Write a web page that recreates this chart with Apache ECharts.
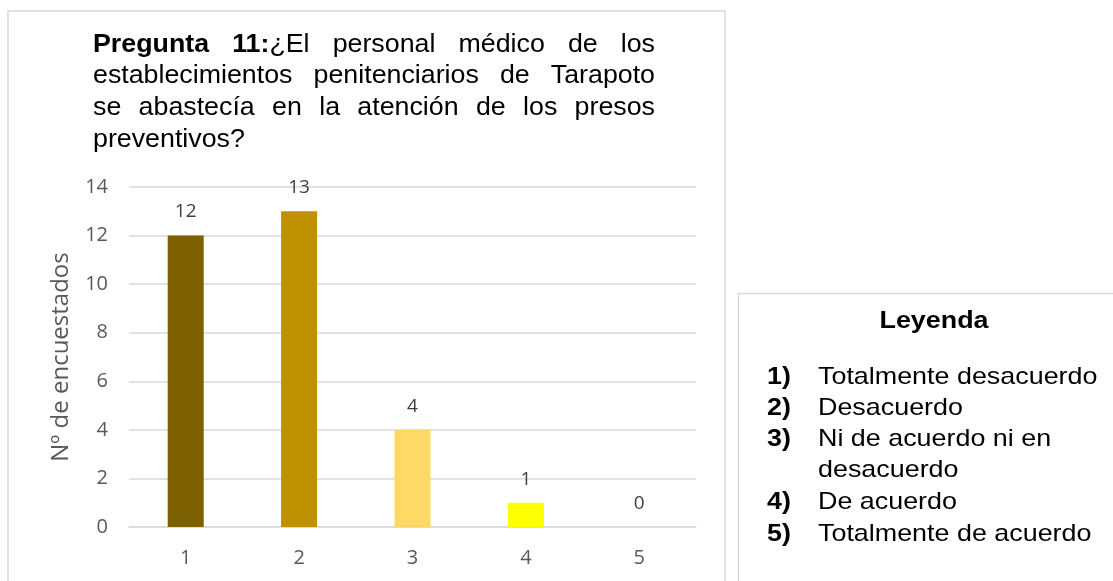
<!DOCTYPE html>
<html><head><meta charset="utf-8">
<script src="https://cdn.jsdelivr.net/npm/echarts@6/dist/echarts.min.js"></script>
<style>html,body{margin:0;padding:0;background:#fff}#c{width:1113px;height:581px}</style>
</head><body><div id="c"></div>
<script>
// ---- data ----
const categories = ['1', '2', '3', '4', '5'];
const values = [12, 13, 4, 1, 0];
const barColors = ['#7F6000', '#BF9000', '#FFD966', '#FFFF00', '#FFE699'];
const yAxisName = 'Nº de encuestados';
// title lines: each word is a list of [text, bold]
const titleLines = [
  [[['Pregunta', 1]], [['11:', 1], ['¿El', 0]], [['personal', 0]], [['médico', 0]], [['de', 0]], [['los', 0]]],
  [[['establecimientos', 0]], [['penitenciarios', 0]], [['de', 0]], [['Tarapoto', 0]]],
  [[['se', 0]], [['abastecía', 0]], [['en', 0]], [['la', 0]], [['atención', 0]], [['de', 0]], [['los', 0]], [['presos', 0]]],
  [[['preventivos?', 0]]]
];
const legendTitle = 'Leyenda';
const legendNums = ['1)', '2)', '3)', '', '4)', '5)'];
const legendItems = ['Totalmente desacuerdo', 'Desacuerdo', 'Ni de acuerdo ni en', 'desacuerdo', 'De acuerdo', 'Totalmente de acuerdo'];

// ---- layout helpers ----
const FONT = '"Liberation Sans", Arial, sans-serif';
const cv = document.createElement('canvas').getContext('2d');
function tw(text, bold, size) {
  cv.font = (bold ? 'bold ' : '') + size + 'px ' + FONT;
  return cv.measureText(text).width;
}
const graphics = [];
// chart border and legend box
graphics.push({ type: 'rect', shape: { x: 8, y: 11, width: 717, height: 600 }, style: { fill: 'none', stroke: '#d9d9d9', lineWidth: 1.5 }, z: 0 });
graphics.push({ type: 'rect', shape: { x: 738.5, y: 293.5, width: 420, height: 320 }, style: { fill: 'none', stroke: '#d9d9d9', lineWidth: 1.5 }, z: 0 });

// justified title
const T_SIZE = 26, T_SCALE = 1.03, T_LEFT = 93, T_RIGHT = 655;
const T_Y = [45, 76, 108, 140];
titleLines.forEach((line, li) => {
  const widths = line.map(w => w.reduce((s, seg) => s + tw(seg[0], seg[1], T_SIZE) * T_SCALE, 0));
  const total = widths.reduce((a, b) => a + b, 0);
  const last = li === titleLines.length - 1;
  const gap = (!last && line.length > 1) ? (T_RIGHT - T_LEFT - total) / (line.length - 1) : tw(' ', 0, T_SIZE) * T_SCALE;
  let x = T_LEFT;
  line.forEach((w, wi) => {
    let sx = x;
    w.forEach(seg => {
      graphics.push({ type: 'text', x: sx, y: T_Y[li], scaleX: T_SCALE,
        style: { text: seg[0], font: (seg[1] ? 'bold ' : '') + T_SIZE + 'px ' + FONT, fill: '#000', textAlign: 'left', textVerticalAlign: 'middle', align: 'left', verticalAlign: 'middle' } });
      sx += tw(seg[0], seg[1], T_SIZE) * T_SCALE;
    });
    x += widths[wi] + gap;
  });
});

// legend box texts
const L_SIZE = 24, L_SCALE = 1.12;
graphics.push({ type: 'text', x: 934, y: 321, scaleX: L_SCALE,
  style: { text: legendTitle, font: 'bold ' + L_SIZE + 'px ' + FONT, fill: '#000', textAlign: 'center', textVerticalAlign: 'middle', align: 'center', verticalAlign: 'middle' } });
const L_Y = [377, 408, 439, 470, 502, 534];
legendItems.forEach((t, i) => {
  if (legendNums[i]) {
    graphics.push({ type: 'text', x: 767, y: L_Y[i], scaleX: L_SCALE,
      style: { text: legendNums[i], font: 'bold ' + L_SIZE + 'px ' + FONT, fill: '#000', textAlign: 'left', textVerticalAlign: 'middle', align: 'left', verticalAlign: 'middle' } });
  }
  graphics.push({ type: 'text', x: 818, y: L_Y[i], scaleX: L_SCALE,
    style: { text: t, font: L_SIZE + 'px ' + FONT, fill: '#000', textAlign: 'left', textVerticalAlign: 'middle', align: 'left', verticalAlign: 'middle' } });
});

const chart = echarts.init(document.getElementById('c'), null, { renderer: 'canvas' });
chart.setOption({
  backgroundColor: '#fff',
  animation: false,
  grid: { left: 129, right: 417, top: 187, bottom: 54, containLabel: false },
  xAxis: {
    type: 'category', data: categories,
    axisLine: { show: true, lineStyle: { color: '#d9d9d9', width: 1.5 } },
    axisTick: { show: false },
    axisLabel: { color: '#595959', fontFamily: '"Open Sans", sans-serif', fontSize: 20, margin: 21 }
  },
  yAxis: {
    type: 'value', min: 0, max: 14, interval: 2,
    name: yAxisName, nameLocation: 'middle', nameGap: 56, nameRotate: 90,
    nameTextStyle: { color: '#595959', fontFamily: '"Open Sans", sans-serif', fontSize: 24 },
    axisLine: { show: false }, axisTick: { show: false },
    axisLabel: { color: '#595959', fontFamily: '"Open Sans", sans-serif', fontSize: 20, margin: 21 },
    splitLine: { lineStyle: { color: '#d9d9d9', width: 1.5 } }
  },
  series: [{
    type: 'bar', barWidth: 36,
    data: values.map((v, i) => ({ value: v, itemStyle: { color: barColors[i] } })),
    label: { show: true, position: 'top', distance: 14, color: '#404040', fontFamily: '"Open Sans", sans-serif', fontSize: 19 }
  }],
  graphic: graphics
});
</script>
</body></html>
